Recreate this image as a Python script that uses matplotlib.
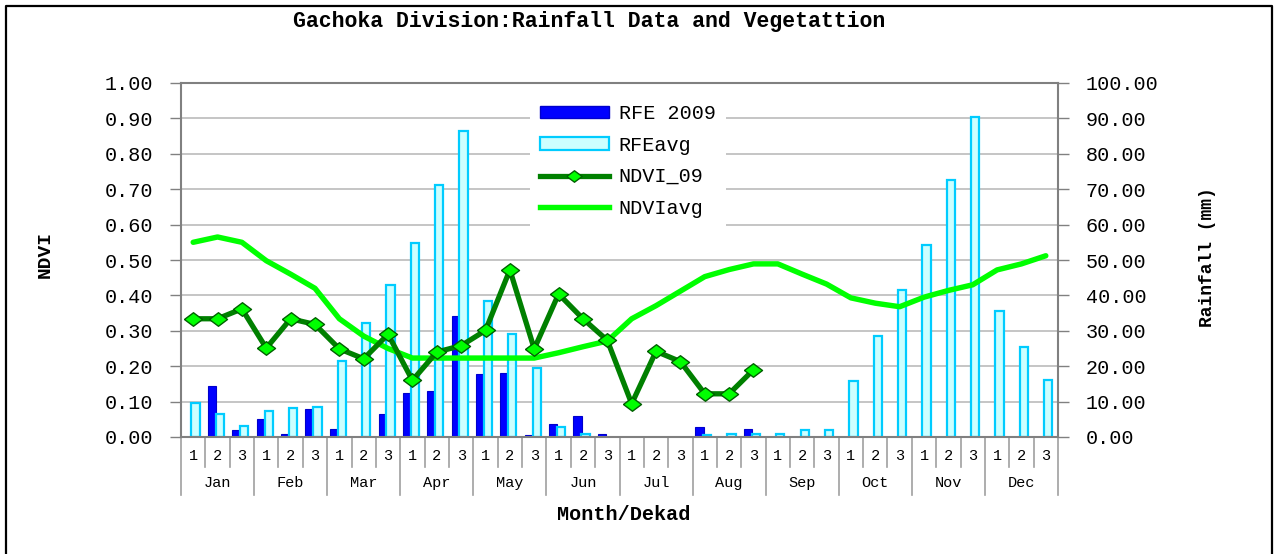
import matplotlib
matplotlib.use('Agg')
import matplotlib.pyplot as plt
import numpy as np
from matplotlib.lines import Line2D
from matplotlib.patches import Patch
from matplotlib.ticker import FormatStrFormatter

months = ['Jan', 'Feb', 'Mar', 'Apr', 'May', 'Jun',
          'Jul', 'Aug', 'Sep', 'Oct', 'Nov', 'Dec']
dekads = ['1', '2', '3']

# rainfall in mm (right axis), 0 = no bar
rfe_2009 = [0, 14.4, 1.9, 5.2, 0.9, 7.9, 2.3, 0, 6.6, 12.5, 13.0, 34.2,
            17.7, 18.1, 0.5, 3.8, 6.0, 0.9, 0, 0, 0, 2.8, 0, 2.3,
            0, 0, 0, 0, 0, 0, 0, 0, 0, 0, 0, 0]
rfe_avg = [9.7, 6.4, 3.2, 7.3, 8.3, 8.6, 21.6, 32.2, 42.9, 54.9, 71.1, 86.4,
           38.3, 29.0, 19.4, 2.8, 0.9, 0, 0, 0, 0, 0.5, 0.9, 0.9,
           0.9, 1.9, 1.9, 15.8, 28.6, 41.5, 54.1, 72.6, 90.4, 35.5, 25.4, 16.2]

# NDVI (left axis)
ndvi_09 = [0.334, 0.334, 0.362, 0.251, 0.334, 0.318, 0.249, 0.221, 0.290,
           0.160, 0.240, 0.258, 0.301, 0.472, 0.249, 0.404, 0.334, 0.273,
           0.094, 0.242, 0.213, 0.122, 0.122, 0.190]
ndvi_avg = [0.550, 0.565, 0.550, 0.498, 0.460, 0.420, 0.334, 0.285, 0.250,
            0.223, 0.223, 0.223, 0.223, 0.223, 0.223, 0.238, 0.255, 0.271,
            0.334, 0.371, 0.412, 0.453, 0.473, 0.489, 0.489, 0.460, 0.432,
            0.393, 0.378, 0.368, 0.395, 0.414, 0.430, 0.472, 0.489, 0.512]


def main():
    plt.rcParams['font.family'] = ['Liberation Mono', 'DejaVu Sans']
    W, H = 1278, 554
    fig = plt.figure(figsize=(W / 100, H / 100), dpi=100)
    ax = fig.add_axes([181 / W, 117 / H, 877 / W, 354 / H])
    ax2 = ax.twinx()

    x = np.arange(len(rfe_avg))
    r09 = np.array(rfe_2009, dtype=float)
    ravg = np.array(rfe_avg, dtype=float)
    r09[r09 == 0] = np.nan
    ravg[ravg == 0] = np.nan

    ## bars on the rainfall axis (drawn underneath)
    ax.set_axisbelow(True)
    ax.grid(axis='y', color='#c0c0c0', lw=1.3)
    ax.bar(x - 0.22, r09, width=0.34, color='#0000ff', edgecolor='#0000cc', lw=0.8)
    ax.bar(x + 0.10, ravg, width=0.34, color='#ccffff', edgecolor='#00ccff', lw=1.6)
    ax.set_ylim(0, 100)
    ax.set_yticks(np.arange(0, 101, 10))
    ax.yaxis.set_major_formatter(FormatStrFormatter('%.2f'))
    ax.set_xlim(-0.5, 35.5)

    ## NDVI lines
    diamond = [(-1, 0), (0, 0.75), (1, 0), (0, -0.75), (-1, 0)]
    ax2.plot(np.arange(len(ndvi_avg)), ndvi_avg, color='#00ff00', lw=3.9,
             solid_capstyle='round')
    ax2.plot(np.arange(len(ndvi_09)), ndvi_09, color='#008000', lw=3.8,
             marker=diamond, markersize=13, markerfacecolor='#00ff00',
             markeredgecolor='#006000', markeredgewidth=1.0)
    ax2.set_ylim(0, 1)
    ax2.set_yticks(np.arange(0, 1.01, 0.1))
    ax2.yaxis.set_major_formatter(FormatStrFormatter('%.2f'))

    ax.yaxis.tick_right()
    ax2.yaxis.tick_left()
    ax.tick_params(axis='y', length=8, width=1, color='#808080', pad=12, labelsize=14.5)
    ax2.tick_params(axis='y', length=8, width=1, color='#808080', pad=12, labelsize=14.5)
    for s in ax.spines.values():
        s.set_color('#808080')
        s.set_linewidth(1.5)
    for s in ax2.spines.values():
        s.set_visible(False)

    ## two-level category axis: dekad / month
    ax.set_xticks(x)
    ax.set_xticklabels(dekads * len(months))
    ax.tick_params(axis='x', length=0, pad=9, labelsize=11)
    tr = ax.get_xaxis_transform()
    for i in range(len(x) + 1):
        if i % 3 == 0:
            ax.plot([i - 0.5, i - 0.5], [0, -58 / 354], transform=tr,
                    color='#a0a0a0', lw=1.2, clip_on=False)
        else:
            ax.plot([i - 0.5, i - 0.5], [0, -30 / 354], transform=tr,
                    color='#a0a0a0', lw=1.2, clip_on=False)
    for m, name in enumerate(months):
        ax.text(3 * m + 1, -46 / 354, name, transform=tr, ha='center',
                va='center', fontsize=11)

    ## legend
    handles = [Patch(facecolor='#0000ff', edgecolor='#0000cc', label='RFE 2009'),
               Patch(facecolor='#ccffff', edgecolor='#00ccff', lw=1.6, label='RFEavg'),
               Line2D([], [], color='#008000', lw=3.8, marker=diamond, markersize=11,
                      markerfacecolor='#00ff00', markeredgecolor='#006000',
                      label='NDVI_09'),
               Line2D([], [], color='#00ff00', lw=3.9, label='NDVIavg')]
    leg = ax2.legend(handles=handles, loc='upper left',
                     bbox_to_anchor=(520 / W, 1 - 84 / H),
                     bbox_transform=fig.transFigure, fontsize=14.5,
                     handlelength=3.4, handleheight=0.55, handletextpad=0.5,
                     labelspacing=0.62, borderpad=0.5, frameon=True,
                     fancybox=False)
    leg.get_frame().set_edgecolor('none')
    leg.get_frame().set_facecolor('white')
    leg.get_frame().set_alpha(1)

    ## text
    fig.text(589 / W, 1 - 22 / H, 'Gachoka Division:Rainfall Data and Vegetattion',
             ha='center', va='center', fontsize=15.5, weight='bold')
    fig.text(624 / W, 1 - 515 / H, 'Month/Dekad', ha='center', va='center',
             fontsize=14.5, weight='bold')
    fig.text(45 / W, 1 - 255 / H, 'NDVI', rotation=90, ha='center', va='center',
             fontsize=14, weight='bold')
    fig.text(1207 / W, 1 - 257 / H, 'Rainfall (mm)', rotation=90, ha='center',
             va='center', fontsize=13, weight='bold')

    ## outer frame of the chart
    fig.add_artist(Line2D([5.5 / W, 5.5 / W, 1272 / W, 1272 / W],
                          [0, 1 - 6 / H, 1 - 6 / H, 0], transform=fig.transFigure,
                          color='black', lw=1.6))

    fig.savefig('out.png', dpi=100)


if __name__ == "__main__":
    main()
